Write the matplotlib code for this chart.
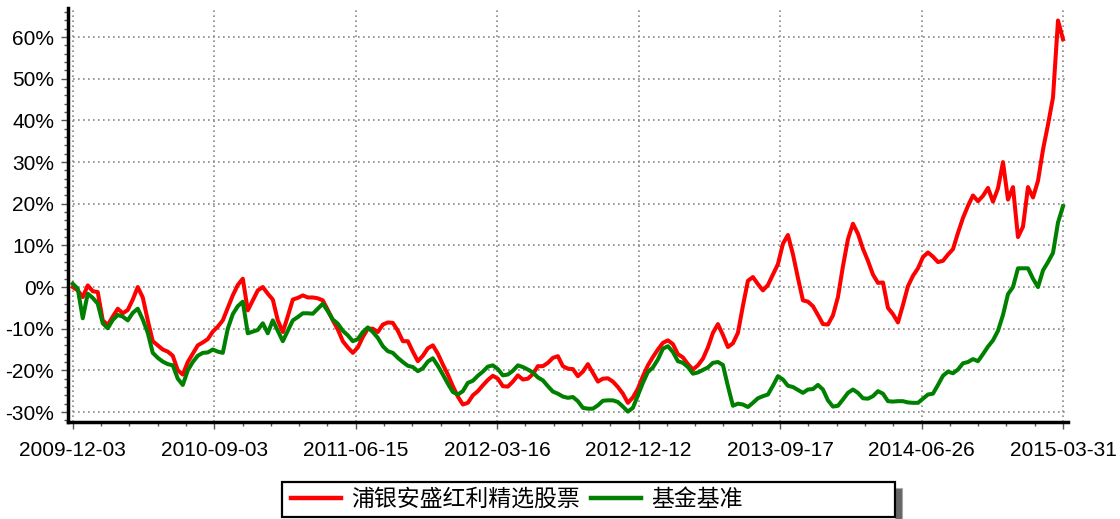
import numpy as np
import matplotlib
matplotlib.use('Agg')
import matplotlib.pyplot as plt
from matplotlib.patches import Rectangle
from matplotlib.ticker import MultipleLocator, FixedLocator, FuncFormatter

plt.rcParams['font.family'] = ['Liberation Sans', 'Noto Sans CJK SC', 'DejaVu Sans']

# cumulative return (%), evenly spaced trading samples
fund = [0, -0.8, -2.4, 0.4, -1.0, -1.2, -8, -9.1, -7.1, -5.2,
        -6.3, -5.5, -3, 0, -2.5, -8, -13, -14, -15, -15.5,
        -16.5, -20, -21, -18, -16, -14, -13.3, -12.5, -10.7, -9.5,
        -8, -5, -2, 0.5, 2.0, -5.6, -3.2, -0.8, 0, -1.6,
        -3, -8, -10.8, -7, -3, -2.6, -2, -2.5, -2.5, -2.7,
        -3.2, -5.5, -8, -10.2, -13, -14.5, -15.8, -14.5, -12, -10,
        -10, -10.8, -9, -8.5, -8.6, -10.5, -13, -13, -15.5, -17.8,
        -16.5, -14.7, -14, -16, -18.6, -21, -23.8, -26.3, -28.2, -27.8,
        -26, -25, -23.6, -22.3, -21.3, -22, -23.8, -23.9, -22.7, -21.2,
        -22.2, -22, -20.9, -19, -19, -18.2, -17, -16.6, -19, -19.6,
        -19.7, -21.4, -20.3, -18.5, -20.6, -22.7, -22, -21.9, -22.7, -24,
        -25.6, -27.8, -26.5, -24.4, -21.4, -18.8, -16.8, -15, -13.4, -12.8,
        -13.7, -16.1, -16.9, -18.5, -19.8, -18.8, -17.2, -14.5, -11, -8.9,
        -11.5, -14.4, -13.5, -11, -4.5, 1.5, 2.4, 0.7, -0.8, 0.5,
        3, 5.5, 10.4, 12.5, 7.9, 2.2, -3.2, -3.5, -4.6, -6.7,
        -8.9, -9, -6.8, -2.4, 5, 11.5, 15.2, 12.8, 9.2, 6.3,
        3, 1, 1.1, -5, -6.5, -8.5, -4.3, 0.2, 2.7, 4.5,
        7.2, 8.3, 7.3, 6, 6.3, 7.8, 9.1, 13, 16.6, 19.5,
        22, 20.6, 21.9, 23.8, 20.5, 23.7, 30, 21, 24, 12,
        14.5, 24, 21.5, 25.5, 33, 39, 45.5, 64, 59.5]

bench = [0.8, -0.4, -7.5, -1.6, -2.6, -4, -8.7, -9.9, -7.9, -6.7,
         -7.1, -8.0, -6.2, -5.2, -7.8, -11, -15.8, -17, -17.9, -18.5,
         -18.8, -22, -23.5, -20, -18, -16.5, -15.8, -15.7, -15, -15.5,
         -15.8, -10, -6.5, -4.6, -3.5, -11.1, -10.7, -10.3, -8.7, -11.1,
         -8.0, -10.5, -13, -10.5, -8, -7.2, -6.3, -6.3, -6.4, -5.2,
         -4, -5.8, -7.8, -8.8, -10.5, -11.6, -13, -12.5, -10.8, -9.7,
         -10.8, -12.2, -14.2, -15.4, -15.8, -17, -18, -18.9, -19.2, -20.2,
         -19.5, -17.9, -17.1, -18.9, -21, -23.2, -25.2, -25.8, -25, -23,
         -22.5, -21.3, -20.3, -19.1, -18.8, -19.7, -21.2, -21, -20.1, -18.8,
         -19.2, -19.8, -20.5, -21.7, -22.4, -23.8, -25.1, -25.6, -26.3, -26.6,
         -26.4, -27.4, -29, -29.2, -29.2, -28.4, -27.3, -27.2, -27.2, -27.6,
         -28.7, -29.9, -29, -26, -23, -20.4, -19.3, -17.4, -14.8, -14.2,
         -15.6, -17.8, -18.2, -19.2, -20.8, -20.5, -19.9, -19.3, -18.2, -18,
         -18.7, -23.8, -28.5, -28, -28.2, -28.8, -27.8, -26.7, -26.2, -25.8,
         -23.7, -21.4, -22.2, -23.7, -24, -24.7, -25.4, -24.6, -24.5, -23.5,
         -24.6, -27.2, -28.7, -28.5, -27, -25.4, -24.6, -25.4, -26.7, -26.8,
         -26.2, -25, -25.6, -27.4, -27.5, -27.4, -27.4, -27.7, -27.8, -27.8,
         -26.8, -25.8, -25.6, -23.5, -21.3, -20.3, -20.7, -19.8, -18.3, -18,
         -17.3, -17.8, -16.1, -14.3, -12.8, -10.5, -6.7, -1.7, 0, 4.5,
         4.5, 4.5, 2, 0, 4, 6, 8.2, 15.5, 19.4]

date_labels = ['2009-12-03', '2010-09-03', '2011-06-15', '2012-03-16',
               '2012-12-12', '2013-09-17', '2014-06-26', '2015-03-31']
names = ['浦银安盛红利精选股票', '基金基准']

W, H = 1120, 519
x = np.arange(len(fund))
n = len(fund) - 1

fig = plt.figure(figsize=(W / 100, H / 100), dpi=100)
ax = fig.add_axes([68/W, 1 - 422/H, 1000/W, 414/H])

ax.plot(x, fund, color='#FF0000', lw=2.9, label=names[0], zorder=3)
ax.plot(x, bench, color='#008000', lw=2.9, label=names[1], zorder=3)

ax.set_xlim(-0.95, n + 1)
ax.set_ylim(-32.4, 67)

major = np.linspace(0, n, len(date_labels))
ax.xaxis.set_major_locator(FixedLocator(major))
ax.xaxis.set_minor_locator(FixedLocator(np.linspace(0, n, (len(date_labels) - 1) * 5 + 1)))
ax.set_xticklabels(date_labels)
ax.yaxis.set_major_locator(MultipleLocator(10))
ax.yaxis.set_minor_locator(MultipleLocator(2))
ax.yaxis.set_major_formatter(FuncFormatter(lambda v, p: '%d%%' % v))

ax.grid(True, which='major', color='#888888', linestyle=(0, (1, 2)), lw=1.2)
for s in ['top', 'right']:
    ax.spines[s].set_visible(False)
for s in ['left', 'bottom']:
    ax.spines[s].set_linewidth(2.5)

ax.tick_params(axis='both', which='major', labelsize=15, length=5, width=1, colors='#555555', labelcolor='black')
ax.tick_params(axis='both', which='minor', length=3, width=1, colors='#555555')
ax.tick_params(axis='x', which='major', pad=9)
ax.tick_params(axis='y', which='major', pad=5)

# legend box with a shadow on its right side (kept under the axes layer)
fig.patches.append(Rectangle((895/W, 0), 7/W, (519 - 488)/H, transform=fig.transFigure,
                             facecolor='#666666', edgecolor='#aaaaaa', lw=0.8, zorder=-2))
fig.patches.append(Rectangle((282/W, 1 - 517/H), 613/W, 35/H, transform=fig.transFigure,
                             facecolor='white', edgecolor='black', lw=1.6, zorder=-1))
leg = ax.legend(loc='center left', bbox_to_anchor=(291/W, 1 - 499.5/H), bbox_transform=fig.transFigure,
                ncol=2, frameon=False, fontsize=16.5, borderpad=0, borderaxespad=0,
                handlelength=2.2, handletextpad=0.42, columnspacing=0.48)
for h in leg.get_lines():
    h.set_linewidth(3.2)

fig.savefig('out.png', dpi=100)
